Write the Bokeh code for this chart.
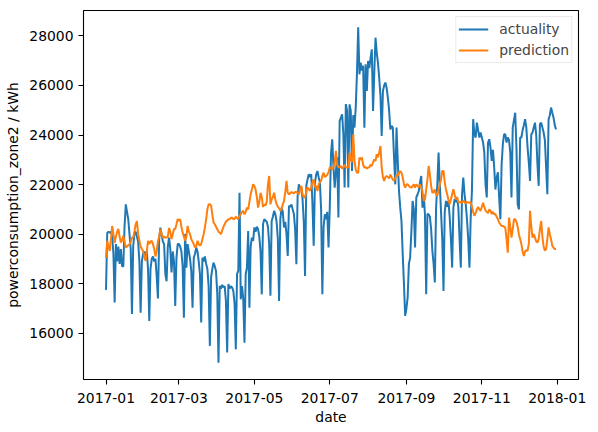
import pandas as pd

from bokeh.embed import file_html
from bokeh.models import (ColumnDataSource, DatetimeTickFormatter, FixedTicker,
                          Legend, LegendItem, Range1d)
from bokeh.plotting import figure
from bokeh.resources import INLINE

# daily values, 2017, one week per row
start_date = "2017-01-01"

actuality = [
    17750, 20050, 20100, 20050, 20100, 19900, 19200,
    17240, 19600, 18900, 19500, 18800, 19400, 18700,
    18700, 20300, 21200, 20900, 20600, 20000, 19400,
    16780, 19500, 20050, 20100, 19900, 19700, 18900,
    16830, 18900, 19200, 19300, 19100, 19300, 18600,
    16500, 18600, 19000, 19100, 18900, 19000, 18300,
    17400, 19800, 20260, 20000, 19700, 19600, 18400,
    18100, 19500, 19860, 19400, 18450, 19300, 18900,
    17100, 19050, 19600, 19600, 19500, 19300, 18700,
    16630, 20010, 18650, 19600, 19300, 19000, 18500,
    17030, 19050, 19200, 19460, 19300, 18900, 18400,
    16430, 19050, 18900, 19100, 18800, 18600, 17900,
    15490, 18250, 18600, 18850, 18700, 18500, 17600,
    14810, 17910, 17800, 17950, 17850, 17900, 17300,
    15220, 17990, 17800, 17900, 17850, 17700, 17200,
    15350, 18400, 18520, 21670, 17370, 17900, 17400,
    15620, 18390, 18650, 20130, 17030, 19500, 19860,
    19730, 20270, 20100, 20300, 20200, 19900, 19300,
    17570, 20400, 20600, 20550, 20500, 20300, 19600,
    17510, 20530, 20700, 20940, 20800, 20500, 19800,
    17300, 20600, 21070, 20900, 20270, 20500, 20000,
    19120, 21140, 21100, 21200, 21000, 20800, 20200,
    18790, 21540, 22010, 21800, 21900, 21400, 20500,
    18310, 21950, 22200, 22420, 22300, 22420, 21220,
    19530, 22080, 22400, 22550, 22300, 22100, 21000,
    17570, 20270, 20800, 20600, 20900, 19460, 21070,
    23240, 23830, 22690, 21880, 22550, 23100, 20670,
    24570, 24700, 24840, 24030, 21880, 25250, 24980,
    21880, 25240, 24970, 22550, 24800, 24300, 25100,
    26500, 28350, 26450, 26920, 26600, 26800, 24300,
    26860, 25780, 26990, 26700, 27100, 27460, 24970,
    26500, 27930, 27330, 26900, 26300, 25600, 23960,
    25780, 26000, 26120, 25900, 25500, 25000, 24230,
    24370, 24300, 23090, 22010, 24300, 22960, 21740,
    21070, 20530, 19200, 18000, 16700, 17000, 17440,
    18790, 19050, 20100, 21340, 21000, 19460, 21480,
    21600, 21740, 22100, 22350, 21070, 21600, 20800,
    17570, 20810, 20800, 20700, 20200, 19320, 18800,
    18050, 21070, 22000, 23290, 22010, 20900, 19800,
    17710, 20900, 21340, 21100, 21340, 20700, 19800,
    18650, 21070, 21410, 21300, 21400, 21100, 19800,
    18650, 21610, 22280, 21610, 21200, 20600, 19800,
    18650, 20670, 21740, 24640, 24030, 23900, 24500,
    24200, 23900, 24100, 23900, 23700, 23300, 22000,
    21480, 23690, 23830, 23500, 22960, 23400, 22700,
    21800, 22280, 22500, 21500, 20600, 22800, 23630,
    24030, 24030, 23700, 23900, 23800, 23300, 21480,
    24300, 24600, 24900, 23500, 21210, 21000, 23900,
    23900, 24200, 24400, 24640, 24300, 23500, 22900,
    22150, 24030, 24100, 24300, 24500, 24000, 22800,
    21950, 24440, 24500, 24300, 24100, 23800, 22700,
    21610, 24640, 24800, 25110, 24900, 24700, 24400,
    24230,
]

prediction = [
    19050, 19730, 19500, 19320, 19800, 20330, 20000,
    19650, 19900, 20100, 20210, 19900, 19660, 19750,
    19930, 19700, 19460, 19500, 19550, 19590, 19700,
    19860, 19860, 20100, 20400, 20530, 20000, 19730,
    19500, 19400, 19320, 19100, 18920, 19300, 19730,
    19600, 19700, 19730, 19590, 19400, 19100, 19300,
    19700, 19900, 20210, 20000, 19860, 19900, 19860,
    19860, 19900, 20250, 20100, 19800, 20000, 20210,
    20210, 20400, 20610, 20530, 20600, 20300, 20060,
    19900, 19730, 19900, 20330, 20100, 20000, 19800,
    19700, 19600, 19460, 19500, 19730, 19600, 19530,
    19600, 19800, 20000, 20270, 20600, 21000, 21210,
    21210, 21150, 20800, 20470, 20400, 20300, 20200,
    20100, 20060, 20000, 20150, 20300, 20400, 20500,
    20550, 20600, 20600, 20650, 20670, 20600, 20620,
    20700, 20650, 20600, 20740, 20800, 20900, 20940,
    20800, 20900, 21070, 21000, 21300, 21610, 21800,
    22010, 21950, 21800, 21500, 21070, 21300, 21670,
    21500, 21100, 21200, 21150, 21300, 22000, 22350,
    21210, 21400, 21500, 21670, 21400, 21210, 21100,
    21050, 20940, 21000, 21200, 21340, 21700, 22150,
    21670, 21600, 21650, 21700, 21670, 21650, 21700,
    21700, 21670, 21600, 21800, 21950, 21600, 21480,
    21480, 21700, 21900, 21800, 21750, 21900, 22100,
    22210, 21900, 21950, 21740, 22000, 22100, 22150,
    22350, 22480, 22300, 22350, 22400, 22500, 22690,
    22690, 22600, 22700, 22900, 23360, 22800, 22700,
    22700, 22750, 22650, 22690, 22800, 22700, 22690,
    22690, 23290, 23000, 22900, 24030, 22960, 22600,
    22480, 22480, 23090, 23000, 23100, 22800, 22690,
    22700, 22650, 22690, 22700, 22800, 22750, 22900,
    23020, 22950, 23230, 23100, 23300, 23560, 22690,
    22300, 22150, 22300, 22350, 22300, 22250, 22400,
    22300, 22200, 22150, 22250, 22400, 22350, 22480,
    22550, 22480, 22300, 22010, 21880, 22000, 22010,
    21950, 21900, 21880, 21950, 22010, 21880, 22010,
    21950, 21900, 22010, 21880, 21740, 21340, 21400,
    21800, 22200, 22750, 22400, 21940, 21670, 21700,
    21800, 21600, 21550, 21800, 22010, 22200, 22550,
    22550, 22100, 21800, 21600, 21400, 21210, 21400,
    21610, 21810, 21600, 21400, 21500, 21300, 21270,
    21300, 21270, 21350, 21300, 21250, 21300, 21270,
    21270, 21300, 21100, 20900, 20740, 20850, 21000,
    21100, 21000, 20940, 21100, 21270, 21100, 20950,
    20900, 20850, 21000, 20950, 20810, 20900, 20800,
    20810, 20700, 20600, 20470, 20400, 20330, 20330,
    20300, 20250, 19800, 19250, 20670, 20300, 19860,
    20200, 20600, 20600, 20500, 20300, 19990, 19800,
    19600, 19300, 19120, 19300, 19350, 19330, 19600,
    20940, 20300, 19860, 20000, 19860, 19700, 19660,
    19800, 20200, 20530, 19900, 19500, 19330, 19400,
    19800, 20270, 20000, 19800, 19530, 19450, 19400,
    19400,
]

x_ticks = ["2017-01-01", "2017-03-01", "2017-05-01", "2017-07-01",
           "2017-09-01", "2017-11-01", "2018-01-01"]
y_ticks = [16000, 18000, 20000, 22000, 24000, 26000, 28000]

dates = pd.date_range(start_date, periods=len(actuality), freq="D")
source = ColumnDataSource(data=dict(date=dates, actuality=actuality,
                                    prediction=prediction))

# matplotlib-like 5% margins
ms = dates.astype("int64") // 10**6
x_pad = (ms[-1] - ms[0]) * 0.05
lo = min(min(actuality), min(prediction))
hi = max(max(actuality), max(prediction))
y_pad = (hi - lo) * 0.05

FONT = "DejaVu Sans"
FS = "13.9px"

p = figure(width=598, height=432, x_axis_type="datetime",
           output_backend="svg", toolbar_location=None,
           x_range=Range1d(ms[0] - x_pad, ms[-1] + x_pad),
           y_range=Range1d(lo - y_pad, hi + y_pad),
           min_border_left=83, min_border_right=20,
           min_border_top=10, min_border_bottom=53)

r1 = p.line("date", "actuality", source=source, color="#1f77b4", line_width=2)
r2 = p.line("date", "prediction", source=source, color="#ff7f0e", line_width=2)

p.xgrid.grid_line_color = None
p.ygrid.grid_line_color = None
p.outline_line_color = "black"
p.outline_line_width = 1.1
p.outline_line_alpha = 1

tick_ms = [int(pd.Timestamp(t).value // 10**6) for t in x_ticks]
p.xaxis.ticker = FixedTicker(ticks=tick_ms)
fmt = "%Y-%m"
p.xaxis.formatter = DatetimeTickFormatter(
    milliseconds=fmt, seconds=fmt, minsec=fmt, minutes=fmt, hourmin=fmt,
    hours=fmt, days=fmt, months=fmt, years=fmt)
p.yaxis.ticker = FixedTicker(ticks=y_ticks)

for ax in (p.xaxis, p.yaxis):
    ax.axis_line_color = None
    ax.major_tick_line_color = "black"
    ax.major_tick_line_width = 1.1
    ax.major_tick_out = 5
    ax.major_tick_in = 0
    ax.minor_tick_line_color = None
    ax.major_label_standoff = 5
    ax.major_label_text_font = FONT
    ax.major_label_text_font_size = FS
    ax.major_label_text_color = "black"
    ax.axis_label_text_font = FONT
    ax.axis_label_text_font_size = FS
    ax.axis_label_text_font_style = "normal"
    ax.axis_label_text_color = "black"
    ax.axis_label_standoff = 5

p.xaxis.major_label_standoff = 8
p.xaxis.axis_label_standoff = 3

p.xaxis.axis_label = "date"
p.yaxis.axis_label = "powerconsumption_zone2 / kWh"

legend = Legend(items=[LegendItem(label="actuality", renderers=[r1]),
                       LegendItem(label="prediction", renderers=[r2])],
                location="top_right", margin=6, padding=2, spacing=1,
                glyph_width=30, glyph_height=20, label_height=20,
                label_standoff=11, label_text_font=FONT,
                label_text_font_size=FS, border_line_color="#d5d5d5",
                border_line_width=1, background_fill_alpha=0.8)
p.add_layout(legend)

open("out.html", "w").write(file_html(p, INLINE))
